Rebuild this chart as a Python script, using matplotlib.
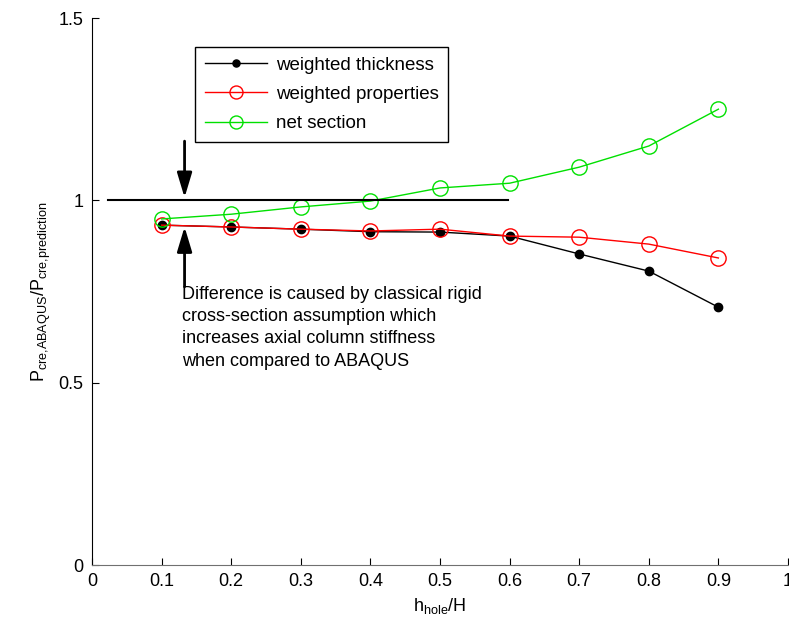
import matplotlib
matplotlib.use('Agg')
import matplotlib.pyplot as plt
import numpy as np

plt.rcParams['font.family'] = ['Liberation Sans', 'DejaVu Sans']
plt.rcParams['mathtext.fontset'] = 'custom'
plt.rcParams['mathtext.rm'] = 'Liberation Sans'
plt.rcParams['mathtext.it'] = 'Liberation Sans'

h_ratio = [0.1, 0.2, 0.3, 0.4, 0.5, 0.6, 0.7, 0.8, 0.9]
weighted_thickness = [0.932, 0.927, 0.921, 0.914, 0.913, 0.902, 0.853, 0.806, 0.707]
weighted_properties = [0.932, 0.927, 0.921, 0.916, 0.921, 0.902, 0.899, 0.880, 0.842]
net_section = [0.949, 0.962, 0.982, 0.998, 1.034, 1.047, 1.091, 1.149, 1.250]

note = ('Difference is caused by classical rigid\n'
        'cross-section assumption which\n'
        'increases axial column stiffness\n'
        'when compared to ABAQUS')

fig = plt.figure(figsize=(7.89, 6.28), dpi=100)
ax = fig.add_axes([0.1166, 0.1003, 0.8821, 0.871])

ax.plot(h_ratio, weighted_thickness, '-o', color='black', lw=1, ms=6,
        label='weighted thickness')
ax.plot(h_ratio, weighted_properties, '-o', color='red', lw=1, ms=11,
        mfc='none', label='weighted properties')
ax.plot(h_ratio, net_section, '-o', color='#00e000', lw=1, ms=11,
        mfc='none', label='net section')

ax.plot([0.023, 0.598], [1.0, 1.0], color='black', lw=1.5)
arrow = dict(arrowstyle='-|>,head_width=0.45,head_length=1.5', color='black', lw=2)
ax.annotate('', xy=(0.133, 1.0), xytext=(0.133, 1.17), arrowprops=arrow)
ax.annotate('', xy=(0.133, 0.935), xytext=(0.133, 0.755), arrowprops=arrow)
ax.text(0.129, 0.765, note, fontsize=13, va='top', ha='left', linespacing=1.4)

ax.set_xlim(0, 1)
ax.set_ylim(0, 1.5)
ax.set_xticks(np.arange(0, 1.01, 0.1))
ax.set_xticklabels(['0', '0.1', '0.2', '0.3', '0.4', '0.5', '0.6', '0.7', '0.8', '0.9', '1'])
ax.set_yticks([0, 0.5, 1, 1.5])
ax.set_yticklabels(['0', '0.5', '1', '1.5'])
ax.tick_params(direction='in', length=5, labelsize=13, pad=6)

ax.spines['top'].set_visible(False)
ax.spines['right'].set_visible(False)
ax.spines['bottom'].set_color('#707070')

ax.set_xlabel(r'h$_{\mathrm{hole}}$/H', fontsize=13)
ax.set_ylabel(r'P$_{\mathrm{cre{,}ABAQUS}}$/P$_{\mathrm{cre{,}prediction}}$', fontsize=13)

leg = ax.legend(loc='upper left', bbox_to_anchor=(0.135, 0.964), fontsize=13.5,
                fancybox=False, edgecolor='black', framealpha=1,
                handlelength=3.3, handletextpad=0.5, borderpad=0.5,
                labelspacing=0.65, markerscale=0.85)
leg.get_frame().set_linewidth(1)

fig.savefig('out.png', dpi=100)
